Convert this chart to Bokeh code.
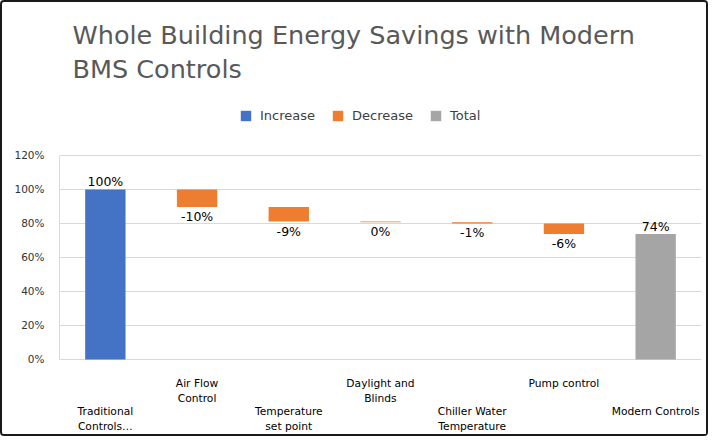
from bokeh.plotting import figure
from bokeh.models import (Range1d, Legend, LegendItem, ColumnDataSource,
                          FixedTicker)
from bokeh.core.properties import value
from bokeh.embed import file_html
from bokeh.resources import INLINE

# ---------------- data ----------------
categories = ["Traditional\nControls…", "Air Flow\nControl", "Temperature\nset point",
              "Daylight and\nBlinds", "Chiller Water\nTemperature", "Pump control",
              "Modern Controls"]
start_value = 100.0
deltas = [-10.3, -8.6, -0.4, -0.7, -6.2]
y_ticks = [0, 20, 40, 60, 80, 100, 120]
legend_labels = ["Increase", "Decrease", "Total"]
title_lines = ["Whole Building Energy Savings with Modern", "BMS Controls"]

# ---------------- derived ----------------
total_value = start_value + sum(deltas)
xs = list(range(len(categories)))
cum = [start_value]
for d in deltas:
    cum.append(cum[-1] + d)
dec_x = xs[1:1 + len(deltas)]
dec_top = cum[:-1]
dec_bottom = cum[1:]

FONT = "DejaVu Sans"
BLUE, ORANGE, GRAY = "#4472C4", "#ED7D31", "#A5A5A5"
BAR_W = 0.44

p = figure(width=708, height=436, output_backend="svg", toolbar_location=None,
           x_range=Range1d(-0.5, len(categories) - 0.5),
           y_range=Range1d(-46.5, 154.1),
           x_axis_location=None,
           min_border_left=57, min_border_right=9, min_border_bottom=0,
           min_border_top=95)
p.title.text = "\n".join(title_lines)
p.title.align = "left"
p.title.offset = 13
p.title.standoff = 27
p.title.text_font = FONT
p.title.text_font_size = "25.5px"
p.title.text_font_style = "normal"
p.title.text_color = "#595959"
p.title.text_line_height = 1.14
p.outline_line_color = None
p.background_fill_color = "white"
p.border_fill_color = "white"
p.styles = {"border": "2px solid #1a1a1a", "border-radius": "4px"}

# axis / grid
p.yaxis.ticker = FixedTicker(ticks=y_ticks)
p.yaxis.bounds = (y_ticks[0], y_ticks[-1])
p.yaxis.major_label_overrides = {t: f"{t}%" for t in y_ticks}
p.yaxis.axis_line_color = "#D9D9D9"
p.yaxis.major_tick_line_color = None
p.yaxis.minor_tick_line_color = None
p.yaxis.major_tick_out = 0
p.yaxis.major_tick_in = 0
p.yaxis.minor_tick_out = 0
p.yaxis.major_label_standoff = 15
p.yaxis.major_label_text_font = FONT
p.yaxis.major_label_text_font_size = "10.5px"
p.yaxis.major_label_text_color = "#333333"
p.ygrid.ticker = FixedTicker(ticks=y_ticks)
p.ygrid.grid_line_color = "#D9D9D9"
p.xgrid.visible = False

# bars
src_inc = ColumnDataSource(dict(x=[xs[0]], top=[start_value], bottom=[0]))
src_dec = ColumnDataSource(dict(x=dec_x, top=dec_top, bottom=dec_bottom))
src_tot = ColumnDataSource(dict(x=[xs[-1]], top=[total_value], bottom=[0]))
r_inc = p.vbar(x="x", top="top", bottom="bottom", width=BAR_W, source=src_inc,
               fill_color=BLUE, line_color=None)
r_dec = p.vbar(x="x", top="top", bottom="bottom", width=BAR_W, source=src_dec,
               fill_color=ORANGE, line_color=None)
r_tot = p.vbar(x="x", top="top", bottom="bottom", width=BAR_W, source=src_tot,
               fill_color=GRAY, line_color=None)

# data labels
above_src = ColumnDataSource(dict(
    x=[xs[0], xs[-1]], y=[start_value, total_value],
    text=[f"{round(start_value):d}%", f"{round(total_value):d}%"]))
below_src = ColumnDataSource(dict(
    x=dec_x, y=dec_bottom, text=[f"{round(d):d}%" for d in deltas]))
p.text(x="x", y="y", text="text", source=above_src, text_align="center",
       text_baseline="bottom", y_offset=0, text_font=value(FONT),
       text_font_size="12.5px", text_color="black")
p.text(x="x", y="y", text="text", source=below_src, text_align="center",
       text_baseline="top", y_offset=2, text_font=value(FONT),
       text_font_size="12.5px", text_color="black")

# staggered category labels
cat_src = ColumnDataSource(dict(
    x=xs, y=[0] * len(xs), text=categories,
    yo=[46 if i % 2 == 0 else 18 for i in xs]))
p.text(x="x", y="y", text="text", source=cat_src, y_offset="yo",
       text_align="center", text_baseline="top", text_font=value(FONT),
       text_font_size="10.7px", text_color="black", text_line_height=1.13)

# legend
legend = Legend(items=[LegendItem(label=legend_labels[0], renderers=[r_inc]),
                       LegendItem(label=legend_labels[1], renderers=[r_dec]),
                       LegendItem(label=legend_labels[2], renderers=[r_tot])],
                orientation="horizontal", location=(180, 315),
                glyph_width=13, glyph_height=13, label_height=13,
                label_standoff=8, spacing=16, padding=0, margin=0,
                border_line_color=None, background_fill_alpha=0,
                label_text_font=FONT, label_text_font_size="13px",
                label_text_color="#404040")
p.add_layout(legend)

open("out.html", "w").write(file_html(p, INLINE))
